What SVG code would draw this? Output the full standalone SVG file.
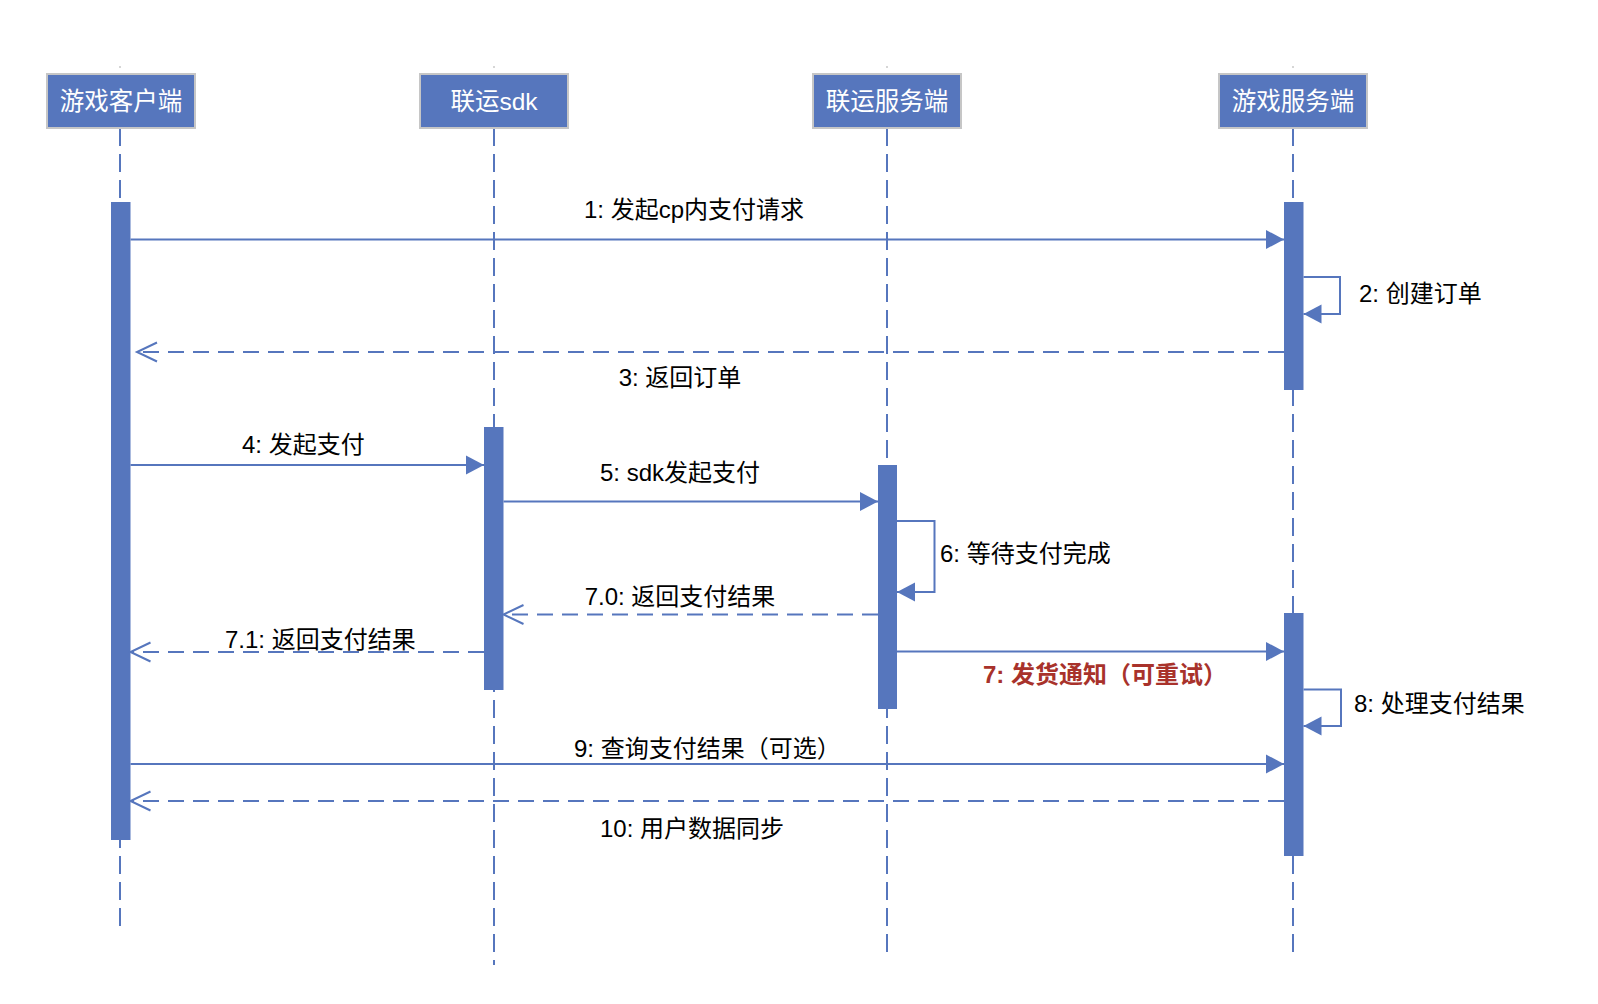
<svg xmlns="http://www.w3.org/2000/svg" width="1598" height="1004" viewBox="0 0 1598 1004">
<style>
text{font-family:"Liberation Sans","Noto Sans CJK SC",sans-serif;font-size:24px}
.hdr rect{fill:#5676BD;stroke:#C6C6C6;stroke-width:2}
.hdr text{fill:#fff;text-anchor:middle;font-size:24.5px}
.life{stroke:#5676BD;stroke-width:2;stroke-dasharray:18 8;fill:none}
.bar{fill:#5676BD}
.msg{stroke:#5676BD;stroke-width:2;fill:none}
.ret{stroke:#5676BD;stroke-width:2;fill:none;stroke-dasharray:16 9}
.lbl{fill:#000}
.mid{text-anchor:middle}
.red{fill:#A8322B;font-weight:bold}
.dot{fill:#C8C8C8}
</style>
<defs>
<marker id="fa" markerUnits="userSpaceOnUse" markerWidth="20" markerHeight="21" refX="18" refY="9.5" orient="auto" overflow="visible">
<path d="M0,0 L18,9.5 L0,19 Z" fill="#5676BD"/>
</marker>
<marker id="oa" markerUnits="userSpaceOnUse" markerWidth="22" markerHeight="22" refX="20" refY="9.5" orient="auto" overflow="visible">
<path d="M0,0 L20,9.5 L0,19" fill="none" stroke="#5676BD" stroke-width="2"/>
</marker>
</defs>
<rect width="1598" height="1004" fill="#fff"/>

<g id="lifelines">
<circle class="dot" cx="120" cy="67" r="1"/>
<circle class="dot" cx="494" cy="67" r="1"/>
<circle class="dot" cx="887" cy="67" r="1"/>
<circle class="dot" cx="1293" cy="67" r="1"/>
<line class="life" x1="120" y1="128" x2="120" y2="934"/>
<line class="life" x1="494" y1="128" x2="494" y2="965"/>
<line class="life" x1="887" y1="128" x2="887" y2="958"/>
<line class="life" x1="1293" y1="128" x2="1293" y2="958"/>
</g>

<g id="node-client" class="hdr">
<rect x="47" y="74" width="148" height="54"/>
<text x="121" y="110">游戏客户端</text>
</g>
<g id="node-sdk" class="hdr">
<rect x="420" y="74" width="148" height="54"/>
<text x="494" y="110">联运sdk</text>
</g>
<g id="node-lyserver" class="hdr">
<rect x="813" y="74" width="148" height="54"/>
<text x="887" y="110">联运服务端</text>
</g>
<g id="node-gameserver" class="hdr">
<rect x="1219" y="74" width="148" height="54"/>
<text x="1293" y="110">游戏服务端</text>
</g>

<g id="activations">
<rect class="bar" x="111" y="202" width="19.5" height="638"/>
<rect class="bar" x="1284" y="202" width="19.5" height="188"/>
<rect class="bar" x="484" y="427" width="19.5" height="263"/>
<rect class="bar" x="878" y="465" width="19" height="244"/>
<rect class="bar" x="1284" y="613" width="19.5" height="243"/>
</g>

<g id="connectors">
<line class="msg" x1="130.5" y1="239.5" x2="1284" y2="239.5" marker-end="url(#fa)"/>
<path class="msg" d="M1303.5,277 H1340 V314 H1303.5" marker-end="url(#fa)"/>
<line class="ret" x1="1284" y1="352" x2="137" y2="352" marker-end="url(#oa)"/>
<line class="msg" x1="130.5" y1="465" x2="484" y2="465" marker-end="url(#fa)"/>
<line class="msg" x1="503.5" y1="501.5" x2="878" y2="501.5" marker-end="url(#fa)"/>
<path class="msg" d="M897,521 H934.5 V592 H897" marker-end="url(#fa)"/>
<line class="ret" x1="878" y1="614.5" x2="503.5" y2="614.5" marker-end="url(#oa)"/>
<line class="ret" x1="484" y1="652" x2="130.5" y2="652" marker-end="url(#oa)"/>
<line class="msg" x1="897" y1="651.5" x2="1284" y2="651.5" marker-end="url(#fa)"/>
<path class="msg" d="M1303.5,689.5 H1341 V726 H1303.5" marker-end="url(#fa)"/>
<line class="msg" x1="130.5" y1="764" x2="1284" y2="764" marker-end="url(#fa)"/>
<line class="ret" x1="1284" y1="801" x2="130.5" y2="801" marker-end="url(#oa)"/>
</g>

<g id="labels">
<text class="lbl mid" x="694" y="218">1: 发起cp内支付请求</text>
<text class="lbl" x="1359" y="302">2: 创建订单</text>
<text class="lbl mid" x="680" y="386">3: 返回订单</text>
<text class="lbl" x="242" y="453">4: 发起支付</text>
<text class="lbl mid" x="680" y="481">5: sdk发起支付</text>
<text class="lbl" x="940" y="562">6: 等待支付完成</text>
<text class="lbl mid" x="680" y="605">7.0: 返回支付结果</text>
<text class="lbl" x="225" y="648">7.1: 返回支付结果</text>
<text class="red" x="983" y="683">7: 发货通知（可重试）</text>
<text class="lbl" x="1354" y="712">8: 处理支付结果</text>
<text class="lbl" x="574" y="757">9: 查询支付结果（可选）</text>
<text class="lbl" x="600" y="837">10: 用户数据同步</text>
</g>
</svg>
